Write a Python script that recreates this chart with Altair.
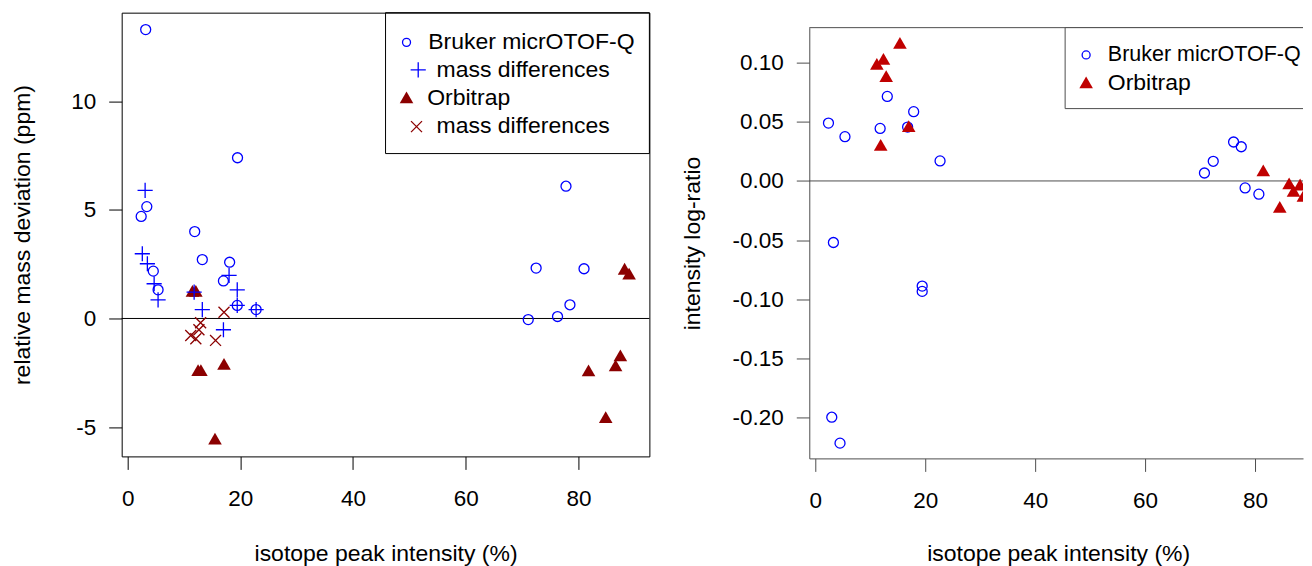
import altair as alt
import pandas as pd

FONT = "Liberation Sans"
FS = 23        # titles and legend text
FSL = 22.5     # tick labels
BLUE = "blue"
DRED = "#8B0000"
RRED = "#C00000"
GREY = "#4d4d4d"

# ---------------- data: left panel (relative mass deviation, ppm) ----------------
bruker_int_L = [3.2, 19.5, 3.4, 2.4, 11.9, 13.25, 18.1, 4.55, 17.0, 5.4, 19.45, 22.8,
                77.8, 72.5, 81.0, 78.5, 76.3, 71.1]
bruker_dev_L = [13.3, 7.4, 5.15, 4.7, 4.0, 2.71, 2.59, 2.18, 1.73, 1.32, 0.60, 0.41,
                6.09, 2.32, 2.29, 0.63, 0.09, -0.05]
bruker_diff_int_L = [3.1, 2.6, 3.5, 4.7, 5.4, 18.0, 19.45, 11.8, 13.25, 19.45, 22.8, 17.0]
bruker_diff_dev_L = [5.9, 2.98, 2.52, 1.60, 0.86, 1.98, 1.32, 1.21, 0.41, 0.60, 0.41, -0.52]
orbi_int_L = [11.5, 12.1, 12.5, 13.0, 17.1, 15.5, 88.2, 89.0, 87.45, 86.6, 81.8, 84.85]
orbi_dev_L = [1.27, 1.27, -2.38, -2.38, -2.09, -5.53, 2.29, 2.06, -1.70, -2.16, -2.39, -4.54]
orbi_diff_int_L = [17.1, 12.95, 12.65, 11.2, 12.1, 15.6]
orbi_diff_dev_L = [0.29, -0.20, -0.52, -0.78, -0.93, -1.01]

# ---------------- data: right panel (intensity log-ratio) ----------------
bruker_int_R = [2.4, 5.4, 11.8, 13.1, 17.9, 16.8, 22.7, 3.3, 19.45, 19.45, 3.0, 4.5,
                76.1, 77.5, 72.4, 70.8, 78.2, 80.7]
bruker_lr_R = [0.0489, 0.0374, 0.0444, 0.0714, 0.0585, 0.0455, 0.0169, -0.052, -0.0888,
               -0.0933, -0.1996, -0.2215, 0.0329, 0.0289, 0.0166, 0.0067, -0.0059, -0.0112]
orbi_int_R = [15.4, 12.4, 11.2, 12.9, 17.0, 11.9, 81.5, 86.2, 88.2, 87.0, 88.8, 84.5]
orbi_lr_R = [0.1166, 0.1031, 0.0989, 0.0885, 0.0464, 0.0304, 0.009, -0.002, -0.003,
             -0.0084, -0.0126, -0.0219]

x_ticks = [0, 20, 40, 60, 80]
yL_ticks = [-5, 0, 5, 10]
yR_ticks = [-0.20, -0.15, -0.10, -0.05, 0.00, 0.05, 0.10]
x_title = "isotope peak intensity (%)"
yL_title = "relative mass deviation (ppm)"
yR_title = "intensity log-ratio"

WL, HL = 528, 444
WR = 494           # right panel is cut by the page edge, as in the reference
TOPR = 15          # right plot box starts this far below the left one
HR = 446           # right group height (box spans TOPR..HR)
GAP = 160          # distance between the two plot boxes

one = pd.DataFrame({"k": [0]})
zero = pd.DataFrame({"v": [0.0]})

xL = alt.Scale(domain=[-1.06, 92.6], nice=False, zero=False)
yL = alt.Scale(domain=[-6.35, 14.08], nice=False, zero=False)
xR = alt.Scale(domain=[-1.09, -1.09 + WR / 5.5], nice=False, zero=False)
yR = alt.Scale(domain=[-0.2344, 0.1295], nice=False, zero=False, range=[HR, TOPR])

common = dict(grid=False, tickSize=13, tickWidth=1, labelFontSize=FSL, labelFont=FONT,
              labelColor="black", titleFontSize=FS, titleFont=FONT, titleFontWeight="normal",
              titleColor="black", titleBaseline="middle", titleAlign="center",
              labelFlush=False, labelOverlap=False)

axL_x = alt.Axis(values=x_ticks, domain=False, tickColor="black", labelPadding=18,
                 title=x_title, titleX=WL / 2, titleY=97, format="d", **common)
axL_y = alt.Axis(values=yL_ticks, domain=False, tickColor="black", labelPadding=13,
                 title=yL_title, titleX=-99, titleY=222,
                 labelExpr="(datum.value < 0 ? '-' : '') + format(abs(datum.value), 'd')",
                 **common)
axR_x = alt.Axis(values=x_ticks, domain=True, domainColor=GREY, domainWidth=1,
                 tickColor=GREY, labelPadding=18, title=x_title, titleX=249, titleY=95,
                 format="d", **common)
axR_y = alt.Axis(values=yR_ticks, domain=True, domainColor=GREY, domainWidth=1,
                 tickColor=GREY, labelPadding=13, title=yR_title, titleX=-117,
                 titleY=(HR + TOPR) / 2,
                 labelExpr="(datum.value < 0 ? '-' : '') + format(abs(datum.value), '.2f')",
                 **common)

CIRCLE = "circle"
PLUS = "M-1,0L1,0M0,-1L0,1"
XSYM = "M-1,-1L1,1M-1,1L1,-1"
TRI = "triangle-up"


def pts(xs, ys, xs_, ys_, ax_x, ax_y, **mk):
    df = pd.DataFrame({"x": xs, "y": ys})
    return alt.Chart(df).mark_point(opacity=1, **mk).encode(
        x=alt.X("x:Q", scale=xs_, axis=ax_x),
        y=alt.Y("y:Q", scale=ys_, axis=ax_y),
    )


def leg_sym(x, y, **mk):
    return alt.Chart(one).mark_point(opacity=1, **mk).encode(x=alt.value(x), y=alt.value(y))


def leg_txt(x, y, t, fs=FS, **kw):
    return alt.Chart(one).mark_text(text=t, align="left", baseline="middle", fontSize=fs,
                                    font=FONT, color="black", **kw).encode(
        x=alt.value(x), y=alt.value(y))


# ---------------- left panel ----------------
left = alt.layer(
    alt.Chart(zero).mark_rule(color="black", strokeWidth=1).encode(
        y=alt.Y("v:Q", scale=yL, axis=axL_y)),
    pts(orbi_int_L, orbi_dev_L, xL, yL, axL_x, axL_y, shape=TRI, filled=True,
        color=DRED, size=185),
    pts(orbi_diff_int_L, orbi_diff_dev_L, xL, yL, axL_x, axL_y, shape=XSYM, filled=False,
        color=DRED, size=121, strokeWidth=1.3),
    pts(bruker_int_L, bruker_dev_L, xL, yL, axL_x, axL_y, shape=CIRCLE, filled=False,
        color=BLUE, size=100, strokeWidth=1.3),
    pts(bruker_diff_int_L, bruker_diff_dev_L, xL, yL, axL_x, axL_y, shape=PLUS,
        filled=False, color=BLUE, size=230, strokeWidth=1.3),
    alt.Chart(one).mark_rect(fillOpacity=0, stroke="black", strokeWidth=1).encode(
        x=alt.value(264), x2=alt.value(WL), y=alt.value(0), y2=alt.value(141)),
    leg_sym(285, 29.7, shape=CIRCLE, filled=False, color=BLUE, size=64, strokeWidth=1.3),
    leg_txt(306.7, 29.5, "Bruker micrOTOF-Q"),
    leg_sym(296.7, 57.3, shape=PLUS, filled=False, color=BLUE, size=230, strokeWidth=1.3),
    leg_txt(315, 57.4, "mass differences"),
    leg_sym(285, 84.7, shape=TRI, filled=True, color=DRED, size=185),
    leg_txt(305.7, 85.6, "Orbitrap"),
    leg_sym(295, 114, shape=XSYM, filled=False, color=DRED, size=121, strokeWidth=1.3),
    leg_txt(315, 113.9, "mass differences"),
).properties(width=WL, height=HL,
             view=alt.ViewBackground(stroke="black", strokeWidth=1))

# ---------------- right panel ----------------
right = alt.layer(
    alt.Chart(one).mark_rule(color=GREY, strokeWidth=1).encode(
        x=alt.value(0), x2=alt.value(WR), y=alt.value(TOPR)),
    alt.Chart(zero).mark_rule(color=GREY, strokeWidth=1).encode(
        y=alt.Y("v:Q", scale=yR, axis=axR_y)),
    pts(bruker_int_R, bruker_lr_R, xR, yR, axR_x, axR_y, shape=CIRCLE, filled=False,
        color=BLUE, size=100, strokeWidth=1.3, clip=True),
    pts(orbi_int_R, orbi_lr_R, xR, yR, axR_x, axR_y, shape=TRI, filled=True,
        color=RRED, size=185, clip=True),
    alt.Chart(one).mark_rect(fill="white", stroke=GREY, strokeWidth=1, clip=True).encode(
        x=alt.value(256), x2=alt.value(WR + 20), y=alt.value(TOPR), y2=alt.value(TOPR + 81)),
    leg_sym(277, TOPR + 27.3, shape=CIRCLE, filled=False, color=BLUE, size=64,
            strokeWidth=1.3),
    leg_txt(298.7, TOPR + 27.2, "Bruker micrOTOF-Q", fs=21.5, clip=True),
    leg_sym(277, TOPR + 54.7, shape=TRI, filled=True, color=RRED, size=185),
    leg_txt(298.7, TOPR + 55.0, "Orbitrap"),
).properties(width=WR, height=HR)

chart = alt.hconcat(left, right, spacing=GAP, bounds="flush").properties(
    padding={"left": 2.75, "top": 3.5, "right": 0, "bottom": 0},
    background="white",
).configure_view(stroke=None)

chart.save("out.html", embed_options={"renderer": "svg", "actions": False})
